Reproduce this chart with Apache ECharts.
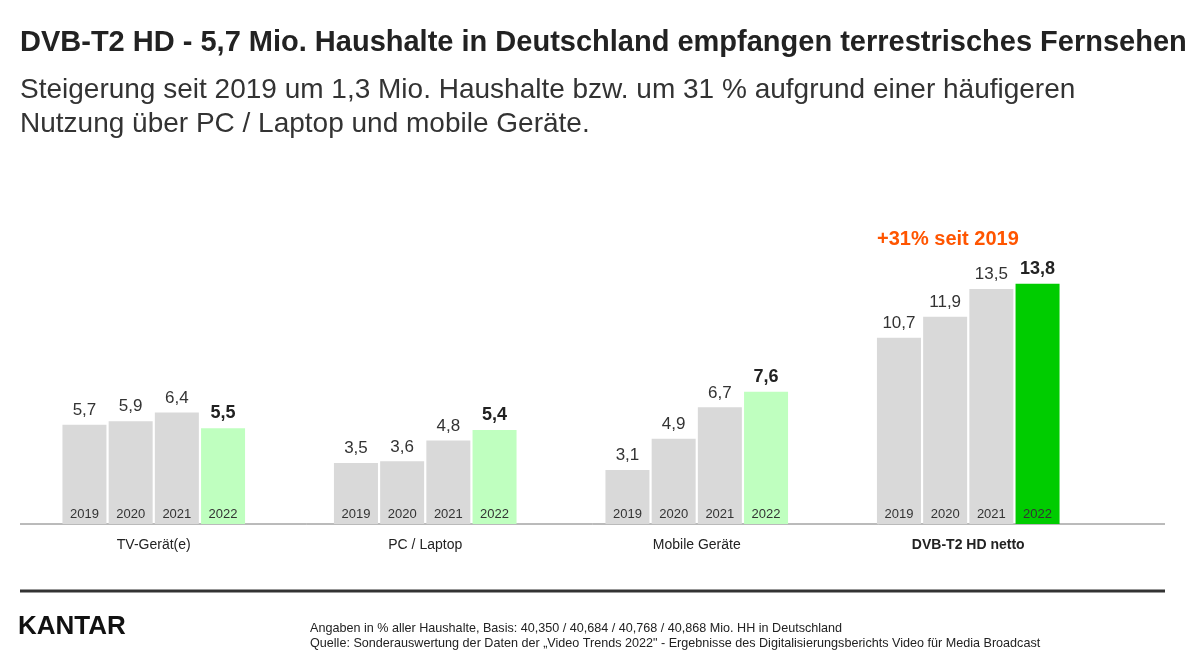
<!DOCTYPE html>
<html><head><meta charset="utf-8">
<script src="https://cdn.jsdelivr.net/npm/echarts@6/dist/echarts.min.js"></script>
<style>html,body{margin:0;padding:0;background:#fff}#c{width:1200px;height:658px}</style>
</head><body><div id="c"></div>
<script>
const categories = ['TV-Gerät(e)', 'PC / Laptop', 'Mobile Geräte', 'DVB-T2 HD netto'];
const years = ['2019', '2020', '2021', '2022'];
const v2019 = [5.7, 3.5, 3.1, 10.7];
const v2020 = [5.9, 3.6, 4.9, 11.9];
const v2021 = [6.4, 4.8, 6.7, 13.5];
const v2022 = [5.5, 5.4, 7.6, 13.8];
const allVals = [v2019, v2020, v2021, v2022];
const F = 'Arial, "Liberation Sans", sans-serif';
const fmt = p => String(p.value).replace('.', ',');
const series = allVals.map((vals, i) => ({
  type: 'bar', name: years[i], barWidth: 44, barGap: '5%',
  data: vals.map((v, j) => ({
    value: v,
    itemStyle: { color: i < 3 ? '#d9d9d9' : (j === 3 ? '#00cc00' : '#bfffbf') }
  })),
  label: { show: true, position: 'top', distance: 6, formatter: fmt, fontFamily: F,
    fontSize: i === 3 ? 18 : 17, color: i === 3 ? '#222' : '#333', fontWeight: i === 3 ? 'bold' : 'normal' }
}));
const yearSeries = allVals.map((vals, i) => ({
  type: 'bar', barWidth: 44, barGap: '5%', xAxisIndex: 1, yAxisIndex: 1, silent: true,
  data: vals.map(() => 1), itemStyle: { color: 'transparent' },
  label: { show: true, position: 'inside', formatter: years[i], fontFamily: F, fontSize: 13, color: '#333' }
}));
const chart = echarts.init(document.getElementById('c'));
chart.setOption({
  animation: false,
  grid: [
    { left: 18, width: 1086, top: 100, bottom: 134 },
    { left: 18, width: 1086, top: 504, bottom: 134 }
  ],
  xAxis: [
    { type: 'category', data: categories, gridIndex: 0, axisLine: { show: false }, axisTick: { show: false },
      axisLabel: { margin: 14, fontFamily: F, fontSize: 14, color: '#222',
        formatter: (v) => v === 'DVB-T2 HD netto' ? '{b|' + v + '}' : v,
        rich: { b: { fontWeight: 'bold', fontFamily: F, fontSize: 14, color: '#222' } } } },
    { type: 'category', data: categories, gridIndex: 1, show: false }
  ],
  yAxis: [
    { type: 'value', min: 0, max: 24.35, gridIndex: 0, show: false },
    { type: 'value', min: 0, max: 1, gridIndex: 1, show: false }
  ],
  series: series.concat(yearSeries),
  graphic: [
    { type: 'text', left: 20, top: 28, style: { text: 'DVB-T2 HD - 5,7 Mio. Haushalte in Deutschland empfangen terrestrisches Fernsehen', font: 'bold 29px ' + F, fill: '#222' } },
    { type: 'text', left: 20, top: 73, style: { text: 'Steigerung seit 2019 um 1,3 Mio. Haushalte bzw. um 31 % aufgrund einer häufigeren\nNutzung über PC / Laptop und mobile Geräte.', font: '28px ' + F, fill: '#333', lineHeight: 34 } },
    { type: 'text', left: 877, top: 229, style: { text: '+31% seit 2019', font: 'bold 20px ' + F, fill: '#ff5500' } },
    { type: 'line', shape: { x1: 20, y1: 524, x2: 1165, y2: 524 }, style: { stroke: '#777', lineWidth: 1 } },
    { type: 'line', shape: { x1: 20, y1: 591, x2: 1165, y2: 591 }, style: { stroke: '#333', lineWidth: 3 } },
    { type: 'text', left: 18, top: 614, style: { text: 'KANTAR', font: 'bold 26px ' + F, fill: '#111' } },
    { type: 'text', left: 310, top: 621, style: { text: 'Angaben in % aller Haushalte, Basis: 40,350 / 40,684 / 40,768 / 40,868 Mio. HH in Deutschland\nQuelle: Sonderauswertung der Daten der „Video Trends 2022" - Ergebnisse des Digitalisierungsberichts Video für Media Broadcast', font: '12.6px ' + F, fill: '#222', lineHeight: 15 } }
  ]
});
</script></body></html>
